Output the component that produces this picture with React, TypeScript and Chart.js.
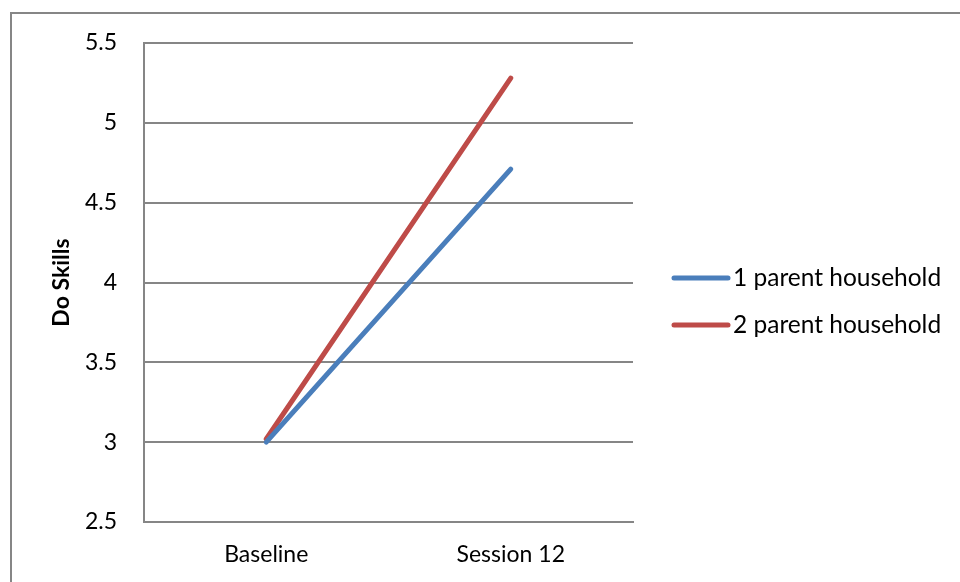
import React, { useEffect, useRef } from "react";
import { Chart, registerables } from "chart.js";

Chart.register(...registerables);

const categories = ["Baseline", "Session 12"];
const oneParent = [3.0, 4.71];
const twoParent = [3.02, 5.28];
const seriesLabels = ["1 parent household", "2 parent household"];
const yTicks = [2.5, 3, 3.5, 4, 4.5, 5, 5.5];
const yTitle = "Do Skills";

const FONT = "Lato, 'Noto Sans', sans-serif";
const BLUE = "#4a7ebb";
const RED = "#be4b48";

const framePlugin = {
  id: "frame",
  beforeDraw(chart: any) {
    const ctx = chart.ctx;
    ctx.save();
    ctx.fillStyle = "#ffffff";
    ctx.fillRect(0, 0, chart.width, chart.height);
    ctx.strokeStyle = "#868686";
    ctx.lineWidth = 2;
    ctx.strokeRect(11, 13, chart.width + 20, chart.height + 20);
    ctx.restore();
  },
  afterDraw(chart: any) {
    const ctx = chart.ctx;
    ctx.save();
    const items = chart.data.datasets;
    const ys = [278, 325];
    items.forEach((ds: any, i: number) => {
      const y = ys[i];
      ctx.strokeStyle = ds.borderColor;
      ctx.lineWidth = 5;
      ctx.lineCap = "round";
      ctx.beginPath();
      ctx.moveTo(674, y);
      ctx.lineTo(728, y);
      ctx.stroke();
      ctx.fillStyle = "#000000";
      ctx.font = `24.5px ${FONT}`;
      ctx.textBaseline = "middle";
      ctx.textAlign = "left";
      ctx.fillText(ds.label, 733, y);
    });
    ctx.restore();
  },
};

export default function App() {
  const ref = useRef<HTMLCanvasElement>(null);
  useEffect(() => {
    if (!ref.current) return;
    const chart = new Chart(ref.current, {
      type: "line",
      data: {
        labels: categories,
        datasets: [
          {
            label: seriesLabels[0],
            data: oneParent,
            borderColor: BLUE,
            backgroundColor: BLUE,
            borderWidth: 5,
            borderCapStyle: "round",
            pointRadius: 0,
            tension: 0,
          },
          {
            label: seriesLabels[1],
            data: twoParent,
            borderColor: RED,
            backgroundColor: RED,
            borderWidth: 5,
            borderCapStyle: "round",
            pointRadius: 0,
            tension: 0,
          },
        ],
      },
      options: {
        animation: false,
        responsive: false,
        maintainAspectRatio: false,
        layout: { padding: { left: 0, top: 43, right: 327, bottom: 0 } },
        plugins: {
          legend: { display: false },
          tooltip: { enabled: false },
        },
        scales: {
          x: {
            type: "category",
            offset: true,
            grid: { display: false, drawTicks: false },
            border: { display: true, color: "#868686", width: 2 },
            ticks: {
              color: "#000000",
              font: { family: FONT, size: 23 },
              padding: 19,
              maxRotation: 0,
            },
            afterFit(scale: any) {
              scale.height = 60;
            },
          },
          y: {
            min: 2.5,
            max: 5.5,
            afterBuildTicks(scale: any) {
              scale.ticks = yTicks.map((v) => ({ value: v }));
            },
            grid: {
              color: "#868686",
              lineWidth: 2,
              drawTicks: false,
            },
            border: { display: true, color: "#868686", width: 2 },
            ticks: {
              color: "#000000",
              font: { family: FONT, size: 23 },
              padding: 27,
              callback: (v: any) => String(v),
            },
            title: {
              display: true,
              text: yTitle,
              color: "#000000",
              font: { family: FONT, size: 23, weight: "bold" },
              padding: { top: 48, bottom: 0 },
            },
            afterFit(scale: any) {
              scale.width = 144;
            },
          },
        },
      },
      plugins: [framePlugin],
    });
    return () => chart.destroy();
  }, []);
  return (
    <div style={{ position: "absolute", left: 0, top: 0, width: 960, height: 582 }}>
      <canvas ref={ref} width={960} height={582} style={{ display: "block" }} />
    </div>
  );
}
